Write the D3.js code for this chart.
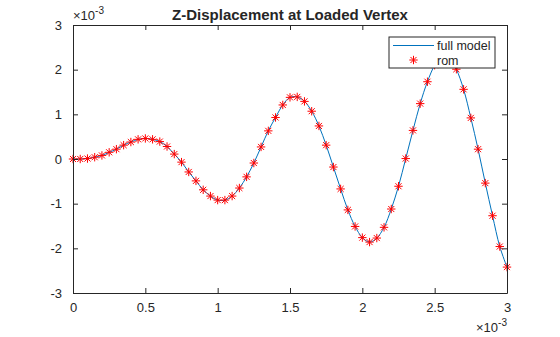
<!DOCTYPE html>
<html>
<head>
<meta charset="utf-8">
<script src="https://cdn.jsdelivr.net/npm/d3@7"></script>
<style>
  body { margin: 0; background: #fff; }
  svg { display: block; font-family: "Liberation Sans", Arial, sans-serif; }
</style>
</head>
<body>
<div id="chart"></div>
<script>
// time samples (x 1e-3) and z displacement (x 1e-3)
var time = [0, 0.05, 0.1, 0.15, 0.2, 0.25, 0.3, 0.35, 0.4, 0.45,
  0.5, 0.55, 0.6, 0.65, 0.7, 0.75, 0.8, 0.85, 0.9, 0.95,
  1.0, 1.05, 1.1, 1.15, 1.2, 1.25, 1.3, 1.35, 1.4, 1.45,
  1.5, 1.55, 1.6, 1.65, 1.7, 1.75, 1.8, 1.85, 1.9, 1.95,
  2.0, 2.05, 2.1, 2.15, 2.2, 2.25, 2.3, 2.35, 2.4, 2.45,
  2.5, 2.55, 2.6, 2.65, 2.7, 2.75, 2.8, 2.85, 2.9, 2.95, 3.0];
var fullModel = [0, 0, 0.01, 0.04, 0.08, 0.15, 0.22, 0.31, 0.38, 0.44,
  0.46, 0.44, 0.39, 0.28, 0.11, -0.07, -0.29, -0.49, -0.69, -0.83,
  -0.92, -0.92, -0.83, -0.65, -0.40, -0.09, 0.27, 0.63, 0.93, 1.21,
  1.38, 1.39, 1.29, 1.07, 0.74, 0.31, -0.18, -0.67, -1.14, -1.51,
  -1.76, -1.86, -1.77, -1.53, -1.12, -0.61, 0.01, 0.64, 1.24, 1.73,
  2.10, 2.31, 2.29, 2.01, 1.56, 0.92, 0.22, -0.54, -1.27, -1.96, -2.42];
var rom = [0, 0, 0.01, 0.04, 0.08, 0.15, 0.22, 0.31, 0.38, 0.44,
  0.46, 0.44, 0.39, 0.28, 0.11, -0.07, -0.29, -0.49, -0.69, -0.83,
  -0.92, -0.92, -0.83, -0.65, -0.40, -0.09, 0.27, 0.63, 0.93, 1.21,
  1.38, 1.39, 1.29, 1.07, 0.74, 0.31, -0.18, -0.67, -1.14, -1.51,
  -1.76, -1.86, -1.77, -1.53, -1.12, -0.61, 0.01, 0.64, 1.24, 1.73,
  2.10, 2.31, 2.29, 2.01, 1.56, 0.92, 0.22, -0.54, -1.27, -1.96, -2.42];
var xTicks = [0, 0.5, 1, 1.5, 2, 2.5, 3];
var yTicks = [-3, -2, -1, 0, 1, 2, 3];
var seriesNames = ["full model", "rom"];

var W = 560, H = 337;
var margin = {left: 73, top: 25, right: 53, bottom: 44};
var iw = W - margin.left - margin.right;
var ih = H - margin.top - margin.bottom;
var axisColor = "#262626";
var lineColor = "#0072BD";
var markColor = "#FF0000";

var svg = d3.select("#chart").append("svg")
    .attr("width", W)
    .attr("height", H);

var x = d3.scaleLinear().domain([0, 3]).range([0, iw]);
var y = d3.scaleLinear().domain([-3, 3]).range([ih, 0]);

var g = svg.append("g")
    .attr("transform", "translate(" + margin.left + "," + margin.top + ")");

// full model curve
var line = d3.line()
    .x(function(d, i) { return x(time[i]); })
    .y(function(d) { return y(d); })
    .curve(d3.curveCatmullRom);

g.append("path")
    .datum(fullModel)
    .attr("d", line)
    .attr("fill", "none")
    .attr("stroke", lineColor)
    .attr("stroke-width", 1);

// asterisk marker: plus and cross on top of each other
function asterisk(r) {
  var c = r * 0.72;
  return "M" + (-r) + ",0H" + r + "M0," + (-r) + "V" + r +
    "M" + (-c) + "," + (-c) + "L" + c + "," + c +
    "M" + (-c) + "," + c + "L" + c + "," + (-c);
}

g.append("g").selectAll("path")
    .data(rom)
    .enter().append("path")
    .attr("transform", function(d, i) { return "translate(" + x(time[i]) + "," + y(d) + ")"; })
    .attr("d", asterisk(4.2))
    .attr("fill", "none")
    .attr("stroke", markColor)
    .attr("stroke-width", 1);

// plain hyphen for negative tick labels
var fmt = function(d) { return String(d); };

// axes, with ticks pointing inward on all four sides
var xAxis = g.append("g")
    .attr("transform", "translate(0," + ih + ")")
    .call(d3.axisBottom(x).tickValues(xTicks).tickSizeInner(-5).tickSizeOuter(0).tickPadding(10).tickFormat(fmt));
var xTop = g.append("g")
    .call(d3.axisTop(x).tickValues(xTicks).tickSizeInner(-5).tickSizeOuter(0).tickFormat(""));
var yAxis = g.append("g")
    .call(d3.axisLeft(y).tickValues(yTicks).tickSizeInner(-5).tickSizeOuter(0).tickPadding(11).tickFormat(fmt));
var yRight = g.append("g")
    .attr("transform", "translate(" + iw + ",0)")
    .call(d3.axisRight(y).tickValues(yTicks).tickSizeInner(-5).tickSizeOuter(0).tickFormat(""));

[xAxis, xTop, yAxis, yRight].forEach(function(a) {
  a.select(".domain").attr("stroke", axisColor).attr("stroke-width", 1);
  a.selectAll(".tick line").attr("stroke", axisColor).attr("stroke-width", 1);
  a.selectAll(".tick text")
    .attr("fill", axisColor)
    .style("font-size", "13px")
    .style("font-family", "'Liberation Sans', Arial, sans-serif");
});

// exponent labels
function exponent(px, py, anchor) {
  var t = svg.append("text")
      .attr("x", px)
      .attr("y", py)
      .attr("text-anchor", anchor)
      .attr("fill", axisColor)
      .style("font-size", "13px");
  t.append("tspan").text("\u00d710");
  t.append("tspan").attr("dy", -6).style("font-size", "10px").text("-3");
}
exponent(margin.left, 20, "start");
exponent(margin.left + iw, 332, "end");

// title
svg.append("text")
    .attr("x", margin.left + iw / 2)
    .attr("y", 20)
    .attr("text-anchor", "middle")
    .attr("fill", axisColor)
    .style("font-size", "15px")
    .style("font-weight", "bold")
    .text("Z-Displacement at Loaded Vertex");

// legend
var lg = svg.append("g").attr("transform", "translate(389,37)");
lg.append("rect")
    .attr("width", 106)
    .attr("height", 31)
    .attr("fill", "#fff")
    .attr("stroke", axisColor)
    .attr("stroke-width", 1);
lg.append("line")
    .attr("x1", 4).attr("x2", 45)
    .attr("y1", 8.5).attr("y2", 8.5)
    .attr("stroke", lineColor)
    .attr("stroke-width", 1);
lg.append("path")
    .attr("transform", "translate(24.5,23)")
    .attr("d", asterisk(4.2))
    .attr("fill", "none")
    .attr("stroke", markColor)
    .attr("stroke-width", 1);
lg.selectAll("text.name")
    .data(seriesNames)
    .enter().append("text")
    .attr("class", "name")
    .attr("x", 48)
    .attr("y", function(d, i) { return 13 + i * 14.5; })
    .attr("fill", axisColor)
    .style("font-size", "12.5px")
    .text(function(d) { return d; });
</script>
</body>
</html>
